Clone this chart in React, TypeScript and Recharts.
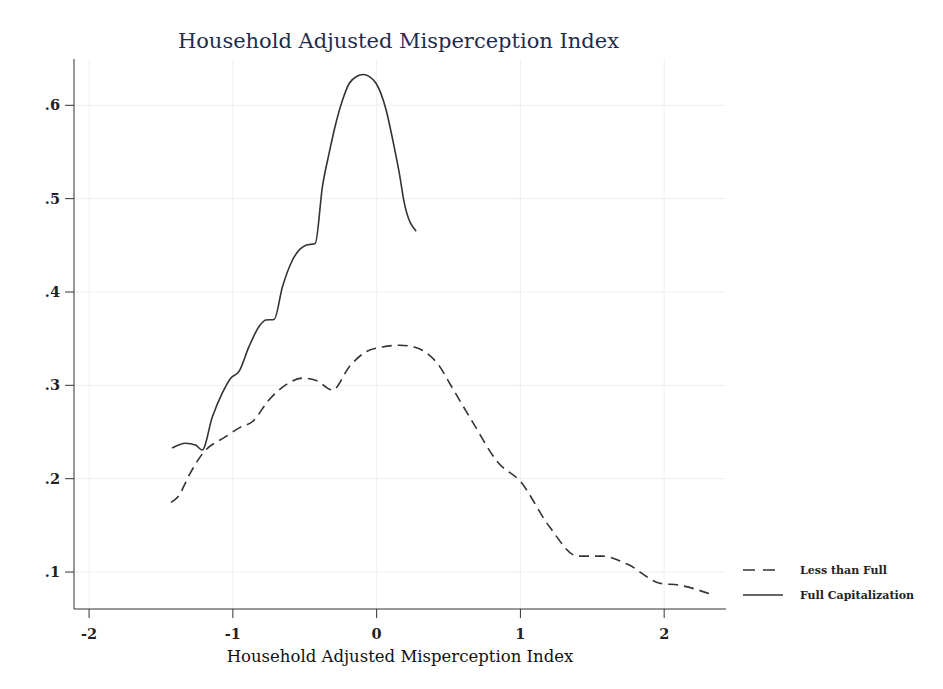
import React from "react";
import { LineChart, Line, XAxis, YAxis, CartesianGrid } from "recharts";

// Kernel density estimates by capitalization group
const lessX = [-1.43, -1.38, -1.3, -1.21, -1.05, -0.95, -0.865, -0.748, -0.632, -0.516, -0.42, -0.306, -0.19, -0.074, 0.04, 0.16, 0.26, 0.345, 0.43, 0.52, 0.67, 0.846, 1.0, 1.2, 1.4, 1.57, 1.75, 1.97, 2.1, 2.33];
const lessY = [0.1746, 0.181, 0.205, 0.227, 0.245, 0.255, 0.261, 0.2845, 0.3005, 0.3077, 0.3052, 0.295, 0.32, 0.336, 0.341, 0.343, 0.341, 0.335, 0.322, 0.299, 0.26, 0.217, 0.197, 0.149, 0.117, 0.117, 0.108, 0.088, 0.086, 0.076];

const fullX = [-1.423, -1.33, -1.26, -1.213, -1.143, -1.074, -1.015, -0.957, -0.888, -0.818, -0.771, -0.713, -0.655, -0.586, -0.492, -0.427, -0.377, -0.33, -0.283, -0.237, -0.19, -0.14, -0.094, -0.05, -0.004, 0.066, 0.112, 0.158, 0.193, 0.275];
const fullY = [0.2328, 0.238, 0.236, 0.2307, 0.266, 0.2916, 0.3077, 0.315, 0.3414, 0.363, 0.37, 0.3706, 0.4056, 0.434, 0.45, 0.452, 0.513, 0.549, 0.581, 0.6057, 0.6236, 0.6308, 0.633, 0.6308, 0.6236, 0.595, 0.563, 0.527, 0.495, 0.465];

const xTicks = [-2, -1, 0, 1, 2];
const xTickLabels = ["-2", "-1", "0", "1", "2"];
const yTicks = [0.1, 0.2, 0.3, 0.4, 0.5, 0.6];
const yTickLabels = [".1", ".2", ".3", ".4", ".5", ".6"];

const chartTitle = "Household Adjusted Misperception Index";
const xAxisTitle = "Household Adjusted Misperception Index";
const seriesNames = ["Less than Full", "Full Capitalization"];

const lessData = lessX.map((x, i) => ({ x, y: lessY[i] }));
const fullData = fullX.map((x, i) => ({ x, y: fullY[i] }));

const serif = "'DejaVu Serif', 'Liberation Serif', serif";
const tickStyle = { fontFamily: serif, fontSize: 14.5, fontWeight: 700, fill: "#222" };
const legendText = { fontFamily: serif, fontSize: 11, fontWeight: 700, fill: "#222" };

export default function App() {
  return (
    <div style={{ position: "absolute", left: 0, top: 0, width: 943, height: 689, background: "#fff" }}>
      <div
        style={{
          position: "absolute",
          left: 0,
          width: 797,
          top: 28,
          textAlign: "center",
          fontFamily: serif,
          fontSize: 21,
          lineHeight: "26px",
          color: "#1f2c4c",
        }}
      >
        {chartTitle}
      </div>
      <LineChart
        width={943}
        height={689}
        margin={{ top: 59, right: 217, bottom: 10, left: 14 }}
      >
        <CartesianGrid stroke="#efefef" strokeWidth={1} horizontalValues={yTicks} verticalValues={xTicks} />
        <XAxis
          type="number"
          dataKey="x"
          domain={[-2.105, 2.43]}
          ticks={xTicks}
          tickFormatter={(v: number) => xTickLabels[xTicks.indexOf(v)] ?? String(v)}
          height={70}
          stroke="#333"
          tickSize={9}
          tickMargin={11}
          tick={tickStyle}
          allowDataOverflow
          label={{
            value: xAxisTitle,
            position: "insideBottom",
            offset: 17,
            style: { fontFamily: serif, fontSize: 16.5, fill: "#111" },
          }}
        />
        <YAxis
          type="number"
          dataKey="y"
          domain={[0.0604, 0.6496]}
          ticks={yTicks}
          tickFormatter={(v: number) => yTickLabels[yTicks.indexOf(v)] ?? String(v)}
          width={60}
          stroke="#333"
          tickSize={9}
          tickMargin={5}
          tick={tickStyle}
          allowDataOverflow
        />
        <Line
          data={lessData}
          dataKey="y"
          type="monotone"
          stroke="#333"
          strokeWidth={1.6}
          strokeDasharray="10 6"
          dot={false}
          isAnimationActive={false}
        />
        <Line
          data={fullData}
          dataKey="y"
          type="monotone"
          stroke="#333"
          strokeWidth={1.6}
          dot={false}
          isAnimationActive={false}
        />
      </LineChart>
      <svg style={{ position: "absolute", left: 735, top: 558 }} width={200} height={50}>
        <line x1={8} y1={12} x2={40} y2={12} stroke="#333" strokeWidth={1.6} strokeDasharray="12 8" />
        <text x={65} y={16} style={legendText}>
          {seriesNames[0]}
        </text>
        <line x1={8} y1={37} x2={48} y2={37} stroke="#333" strokeWidth={1.6} />
        <text x={65} y={41} style={legendText}>
          {seriesNames[1]}
        </text>
      </svg>
    </div>
  );
}
